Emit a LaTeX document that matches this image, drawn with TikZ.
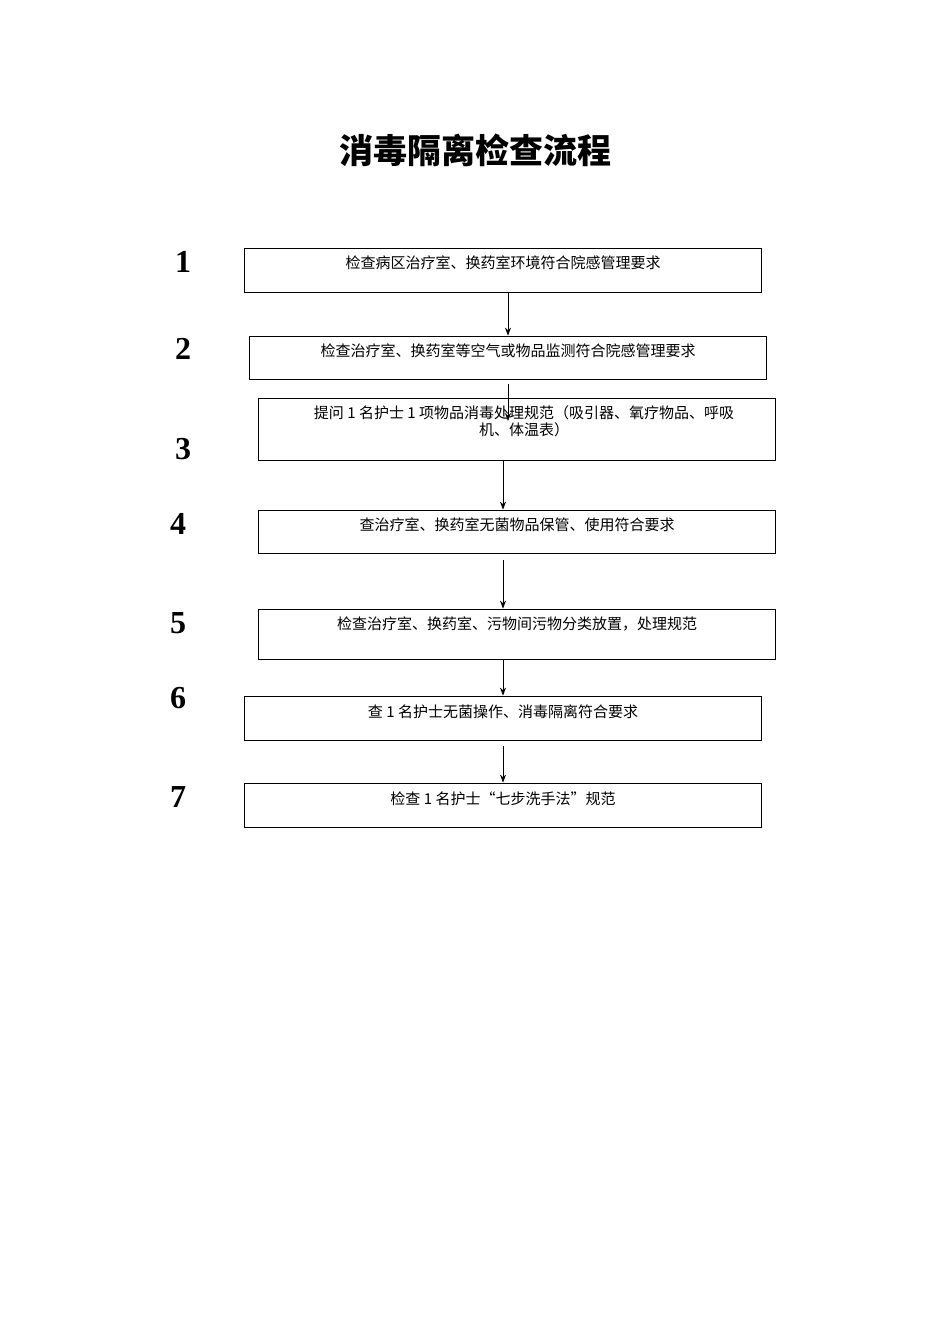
\documentclass[tikz,border=0pt]{standalone}
\usepackage{fontspec}
\setmainfont{Liberation Serif}
\newfontfamily\cjk{Noto Sans CJK SC}
\usetikzlibrary{arrows.meta}
\begin{document}
\begin{tikzpicture}[x=1pt,y=-1pt,
  box/.style={draw,line width=0.8pt,inner sep=0pt},
  txt/.style={font=\cjk\fontsize{15}{17}\selectfont,anchor=center,align=center},
  num/.style={font=\bfseries\fontsize{32}{32}\selectfont},
  arr/.style={-{Stealth[length=8pt,width=6pt]},line width=0.8pt}]
\useasboundingbox (0,0) rectangle (950,1344);
\node[font=\cjk\bfseries\fontsize{34}{36}\selectfont] (title) at (475,150) {消毒隔离检查流程};
\node[box,minimum width=517,minimum height=44] (b1) at (502.5,270) {};
\node[box,minimum width=517,minimum height=43] (b2) at (507.5,357.5) {};
\node[box,minimum width=517,minimum height=62] (b3) at (516.5,429) {};
\node[box,minimum width=517,minimum height=43] (b4) at (516.5,531.5) {};
\node[box,minimum width=517,minimum height=50] (b5) at (516.5,634) {};
\node[box,minimum width=517,minimum height=44] (b6) at (502.5,718) {};
\node[box,minimum width=517,minimum height=44] (b7) at (502.5,805) {};
\node[txt] (t1) at (503,263) {检查病区治疗室、换药室环境符合院感管理要求};
\node[txt] (t2) at (508,351) {检查治疗室、换药室等空气或物品监测符合院感管理要求};
\node[txt] (t3) at (524,421.5) {提问 1 名护士 1 项物品消毒处理规范（吸引器、氧疗物品、呼吸\\机、体温表）};
\node[txt] (t4) at (517,525) {查治疗室、换药室无菌物品保管、使用符合要求};
\node[txt] (t5) at (517,624) {检查治疗室、换药室、污物间污物分类放置，处理规范};
\node[txt] (t6) at (503,712) {查 1 名护士无菌操作、消毒隔离符合要求};
\node[txt] (t7) at (503,799) {检查 1 名护士“七步洗手法”规范};
\node[num] (n1) at (183,262) {1};
\node[num] (n2) at (183,349) {2};
\node[num] (n3) at (183,449) {3};
\node[num] (n4) at (178,524) {4};
\node[num] (n5) at (178,623) {5};
\node[num] (n6) at (178,698) {6};
\node[num] (n7) at (178,797) {7};
\coordinate (a2s) at (508,384);
\coordinate (a2e) at (508,421);
\coordinate (a5s) at (503,560);
\coordinate (a6s) at (503,746);
\draw[arr] (b1.south -| 508,0) -- (b2.north -| 508,0);
\draw[arr] (a2s) -- (a2e);
\draw[arr] (b3.south -| 503,0) -- (b4.north -| 503,0);
\draw[arr] (a5s) -- (b5.north -| 503,0);
\draw[arr] (b5.south -| 503,0) -- (b6.north -| 503,0);
\draw[arr] (a6s) -- (b7.north -| 503,0);
\end{tikzpicture}
\end{document}
